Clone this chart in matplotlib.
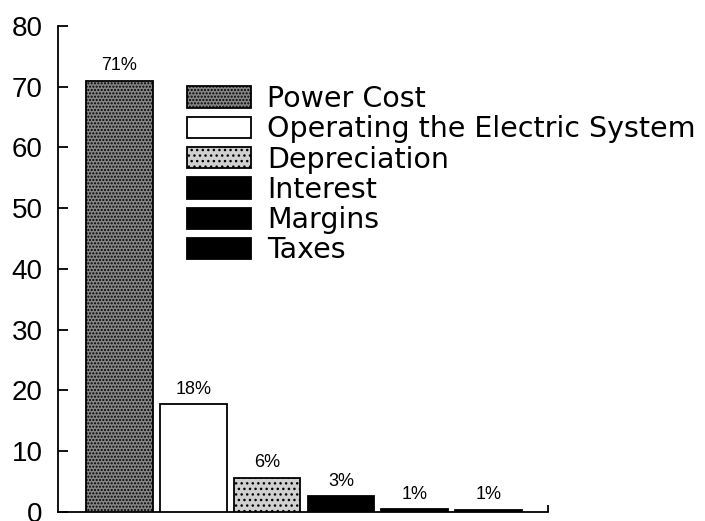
import matplotlib
matplotlib.use('Agg')
import matplotlib.pyplot as plt
import numpy as np

categories = ["Power Cost", "Operating the Electric System", "Depreciation",
              "Interest", "Margins", "Taxes"]
values = [71, 17.7, 5.6, 2.5, 0.45, 0.35]
labels = ["71%", "18%", "6%", "3%", "1%", "1%"]
yticks = [0, 10, 20, 30, 40, 50, 60, 70, 80]

faces   = ['#858585', 'white', '#d0d0d0', 'black', 'black', 'black']
hatches = ['.....', None, '...', None, None, None]

plt.rcParams['hatch.linewidth'] = 1.0

fig = plt.figure(figsize=(7.05, 5.21), dpi=100)
ax = fig.add_axes([0.0823, 0.0179, 0.695, 0.9322])

x = np.arange(len(categories))
bars = ax.bar(x, values, width=0.9, color=faces, edgecolor='black',
              linewidth=1.3, zorder=3)
for b, h in zip(bars, hatches):
    if h:
        b.set_hatch(h)

for b, lab in zip(bars, labels):
    ax.annotate(lab, xy=(b.get_x() + b.get_width() / 2, b.get_height()),
                xytext=(0, 4.5), textcoords='offset points',
                ha='center', va='bottom', fontsize=13, family='Liberation Sans')

ax.set_xlim(-0.833, 5.806)
ax.set_ylim(0, 80)
ax.set_yticks(yticks)
ax.set_yticklabels([str(t) for t in yticks], fontsize=20, family='Liberation Sans')
ax.tick_params(axis='y', direction='in', length=7.5, width=1.3, pad=11)
ax.set_xticks([5.806])
ax.tick_params(axis='x', direction='in', length=5, width=1.3, labelbottom=False)

for s in ['top', 'right']:
    ax.spines[s].set_visible(False)
for s in ['left', 'bottom']:
    ax.spines[s].set_linewidth(1.3)

ax.legend(bars, categories, loc='upper left',
          bbox_to_anchor=(187 / 705, 1 - 85 / 521), bbox_transform=fig.transFigure,
          frameon=False, borderpad=0, borderaxespad=0,
          handlelength=2.25, handleheight=0.77, handletextpad=0.56,
          labelspacing=0.08, prop={'family': 'DejaVu Sans', 'size': 20.5})

fig.savefig('out.png', dpi=100)
